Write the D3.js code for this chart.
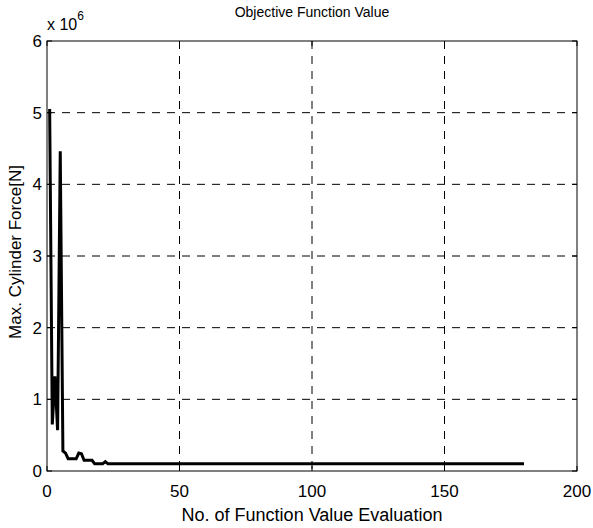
<!DOCTYPE html>
<html>
<head>
<meta charset="utf-8">
<script src="https://cdn.jsdelivr.net/npm/d3@7"></script>
<style>
  body { margin: 0; background: #fff; }
  svg { display: block; font-family: "Liberation Sans", Arial, sans-serif; }
</style>
</head>
<body>
<div id="chart"></div>
<script>
// Evaluation number and objective value (in units of 1e6 N)
const evals = [1, 2, 3, 4, 5, 6, 7, 8, 9, 10, 11, 12, 13, 14, 15, 16, 17, 18, 19, 20, 21, 22, 23, 180];
const force = [5.05, 0.65, 1.32, 0.57, 4.46, 0.28, 0.25, 0.17, 0.17, 0.17, 0.17, 0.25, 0.24, 0.15, 0.15, 0.15, 0.15, 0.10, 0.10, 0.10, 0.10, 0.13, 0.10, 0.10];
const xTicks = [0, 50, 100, 150, 200];
const yTicks = [0, 1, 2, 3, 4, 5, 6];

const width = 593, height = 528;
const margin = { top: 41, right: 16, bottom: 57, left: 47 };
const innerW = width - margin.left - margin.right;
const innerH = height - margin.top - margin.bottom;

const svg = d3.select('#chart').append('svg')
  .attr('width', width)
  .attr('height', height);

const g = svg.append('g')
  .attr('transform', `translate(${margin.left},${margin.top})`);

const x = d3.scaleLinear().domain([0, 200]).range([0, innerW]);
const y = d3.scaleLinear().domain([0, 6]).range([innerH, 0]);

// grid
g.append('g').selectAll('line')
  .data(xTicks.slice(1, -1))
  .join('line')
  .attr('x1', d => x(d)).attr('x2', d => x(d))
  .attr('y1', 0).attr('y2', innerH)
  .attr('stroke', '#000').attr('stroke-width', 1)
  .attr('stroke-dasharray', '8,7');

g.append('g').selectAll('line')
  .data(yTicks.slice(1, -1))
  .join('line')
  .attr('x1', 0).attr('x2', innerW)
  .attr('y1', d => y(d)).attr('y2', d => y(d))
  .attr('stroke', '#000').attr('stroke-width', 1)
  .attr('stroke-dasharray', '8,7');

// inward ticks on all four sides
const tickLen = 5;
g.append('g').selectAll('line')
  .data(xTicks)
  .join('line')
  .attr('x1', d => x(d)).attr('x2', d => x(d))
  .attr('y1', innerH).attr('y2', innerH - tickLen)
  .attr('stroke', '#000');
g.append('g').selectAll('line')
  .data(xTicks)
  .join('line')
  .attr('x1', d => x(d)).attr('x2', d => x(d))
  .attr('y1', 0).attr('y2', tickLen)
  .attr('stroke', '#000');
g.append('g').selectAll('line')
  .data(yTicks)
  .join('line')
  .attr('x1', 0).attr('x2', tickLen)
  .attr('y1', d => y(d)).attr('y2', d => y(d))
  .attr('stroke', '#000');
g.append('g').selectAll('line')
  .data(yTicks)
  .join('line')
  .attr('x1', innerW).attr('x2', innerW - tickLen)
  .attr('y1', d => y(d)).attr('y2', d => y(d))
  .attr('stroke', '#000');

// box
g.append('rect')
  .attr('x', 0).attr('y', 0)
  .attr('width', innerW).attr('height', innerH)
  .attr('fill', 'none').attr('stroke', '#000').attr('stroke-width', 1);

// data line
const pts = evals.map((e, i) => [e, force[i]]);
g.append('path')
  .datum(pts)
  .attr('fill', 'none')
  .attr('stroke', '#000')
  .attr('stroke-width', 3)
  .attr('stroke-linejoin', 'miter')
  .attr('d', d3.line().x(d => x(d[0])).y(d => y(d[1])));

// tick labels
g.append('g').selectAll('text')
  .data(xTicks)
  .join('text')
  .attr('x', d => x(d))
  .attr('y', innerH + 26)
  .attr('text-anchor', 'middle')
  .attr('font-size', 17)
  .text(d => d);

g.append('g').selectAll('text')
  .data(yTicks)
  .join('text')
  .attr('x', -5)
  .attr('y', d => y(d) + 6)
  .attr('text-anchor', 'end')
  .attr('font-size', 17)
  .text(d => d);

// exponent label
const expo = svg.append('text')
  .attr('x', 47)
  .attr('y', 30)
  .attr('font-size', 16);
expo.append('tspan').text('x 10');
expo.append('tspan').attr('dy', -10).attr('font-size', 12).text('6');

// title and axis labels
svg.append('text')
  .attr('x', margin.left + innerW / 2)
  .attr('y', 17)
  .attr('text-anchor', 'middle')
  .attr('font-size', 14)
  .text('Objective Function Value');

svg.append('text')
  .attr('x', margin.left + innerW / 2)
  .attr('y', 521)
  .attr('text-anchor', 'middle')
  .attr('font-size', 18)
  .text('No. of Function Value Evaluation');

svg.append('text')
  .attr('transform', `translate(21,${margin.top + innerH / 2 - 4}) rotate(-90)`)
  .attr('text-anchor', 'middle')
  .attr('font-size', 17)
  .text('Max. Cylinder Force[N]');
</script>
</body>
</html>
